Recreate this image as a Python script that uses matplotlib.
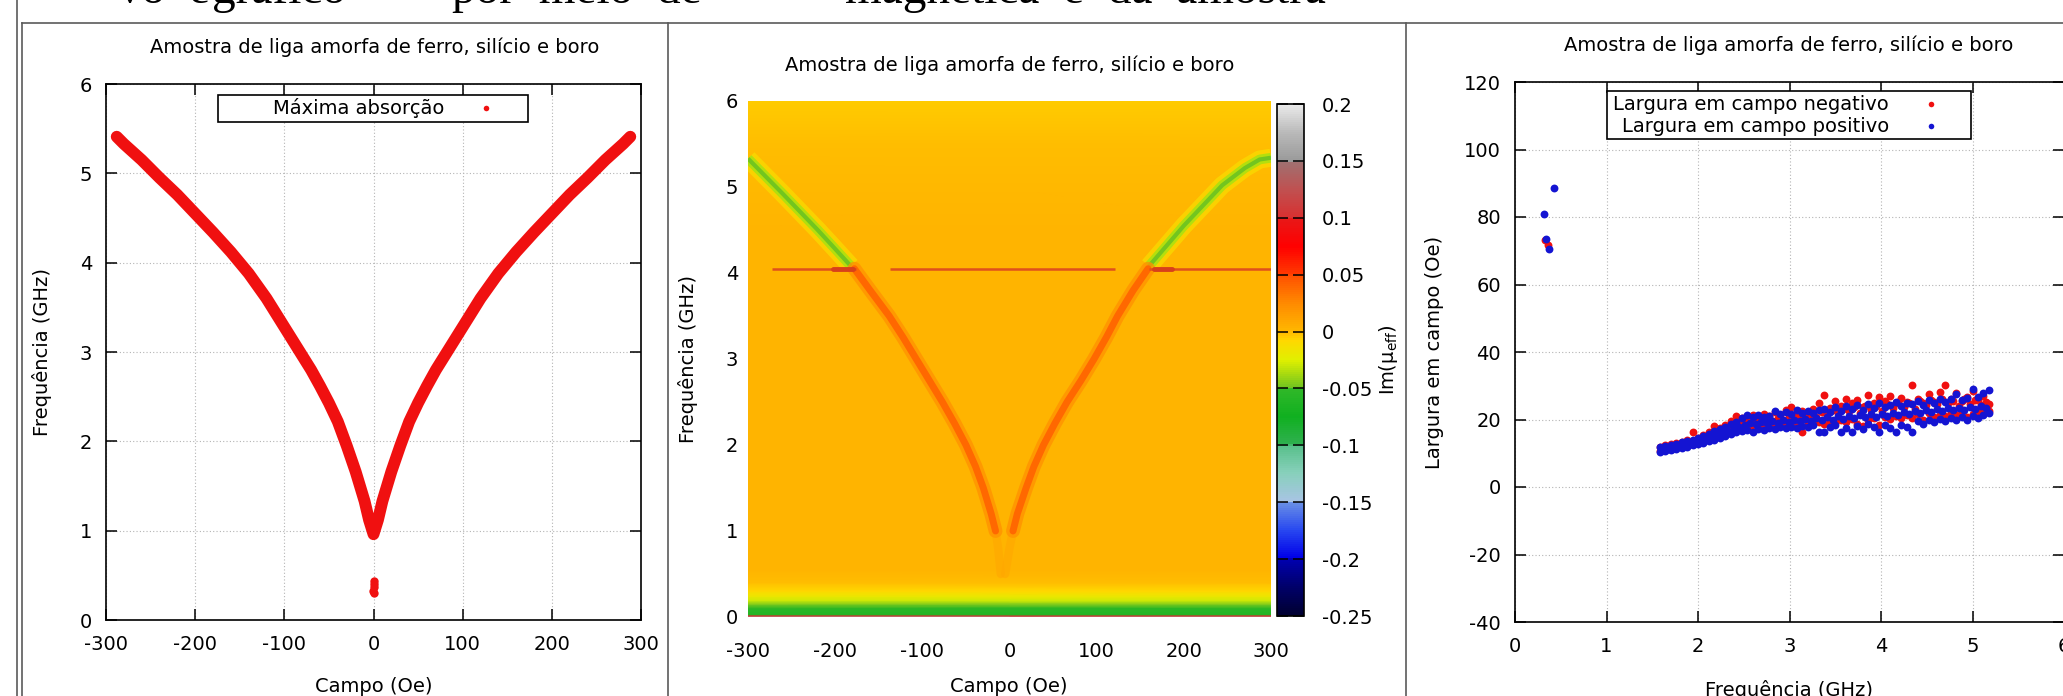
import matplotlib
matplotlib.use('Agg')
import matplotlib.pyplot as plt
import numpy as np
from matplotlib.colors import LinearSegmentedColormap, Normalize
from matplotlib.cm import ScalarMappable
from matplotlib.patches import Rectangle
from matplotlib.lines import Line2D

W, H = 2063, 696
TITULO = 'Amostra de liga amorfa de ferro, silício e boro'
VERMELHO = '#f01010'
AZUL = '#1414d2'

# Painel 1: máxima absorção (campo em Oe, frequência em GHz)
abs_campo = [-288, -280, -260, -240, -220, -200, -180, -160, -140, -120, -100,
             -90, -80, -70, -60, -50, -40, -30, -20, -10, -5, 0,
             5, 10, 20, 30, 40, 50, 60, 70, 80, 90, 100,
             120, 140, 160, 180, 200, 220, 240, 260, 280, 288]
abs_freq = [5.41, 5.33, 5.15, 4.95, 4.76, 4.55, 4.34, 4.12, 3.88, 3.60, 3.28,
            3.12, 2.96, 2.80, 2.62, 2.43, 2.22, 1.95, 1.66, 1.33, 1.12, 0.96,
            1.12, 1.33, 1.66, 1.95, 2.22, 2.43, 2.62, 2.80, 2.96, 3.12, 3.28,
            3.60, 3.88, 4.12, 4.34, 4.55, 4.76, 4.95, 5.15, 5.33, 5.41]
out_campo = [0, 0, 0, -1, 1]
out_freq = [0.44, 0.40, 0.37, 0.33, 0.30]

# Painel 2: mapa de Im(mu_eff)
fundo_freq = [0.0, 0.015, 0.03, 0.06, 0.10, 0.15, 0.19, 0.24, 0.30, 0.40, 0.55, 1.0, 3.5, 4.5, 5.5, 6.0]
fundo_valor = [0.16, 0.10, -0.06, -0.058, -0.055, -0.045, -0.03, -0.018, -0.008, -0.002,
               0.002, 0.003, 0.003, 0.002, -0.002, -0.004]
v_esq_campo = [-178, -160, -138, -122, -107, -92, -77, -63, -50, -39, -30, -21, -16]
v_esq_freq = [4.05, 3.8, 3.5, 3.25, 3.0, 2.75, 2.5, 2.25, 2.0, 1.75, 1.5, 1.2, 1.0]
v_dir_campo = [159, 142, 124, 111, 97, 82, 66, 52, 39, 28, 19, 9, 4]
v_dir_freq = [4.05, 3.8, 3.5, 3.25, 3.0, 2.75, 2.5, 2.25, 2.0, 1.75, 1.5, 1.2, 1.0]
cauda_esq_campo = [-16, -13, -10]
cauda_dir_campo = [4, 0, -5]
cauda_freq = [1.0, 0.8, 0.5]
verde_esq_campo = [-300, -260, -220, -200, -182]
verde_esq_freq = [5.33, 4.92, 4.50, 4.28, 4.08]
verde_dir_campo = [160, 200, 244, 270, 287, 300]
verde_dir_freq = [4.08, 4.55, 5.02, 5.22, 5.32, 5.34]
linha_4ghz = 4.05
linha_trechos = [(-273, -176), (-137, 121), (160, 300)]
linha_manchas = [(-203, -180), (166, 186)]

cbar_ticks = [-0.25, -0.2, -0.15, -0.1, -0.05, 0, 0.05, 0.1, 0.15, 0.2]
cbar_labels = ['-0.25', '-0.2', '-0.15', '-0.1', '-0.05', '0', '0.05', '0.1', '0.15', '0.2']

# Painel 3: largura em campo (Oe) vs frequência (GHz)
freq_a = [1.58, 1.64, 1.70, 1.76, 1.82, 1.88, 1.94, 2.00, 2.06, 2.12, 2.18,
          2.24, 2.30, 2.36, 2.42, 2.48, 2.54, 2.60, 2.66, 2.72, 2.78, 2.84,
          2.90, 2.96, 3.02, 3.08, 3.14, 3.20, 3.26, 3.32, 3.38, 3.44, 3.50,
          3.56, 3.62, 3.68, 3.74, 3.80, 3.86, 3.92, 3.98, 4.04, 4.10, 4.16,
          4.22, 4.28, 4.34, 4.40, 4.46, 4.52, 4.58, 4.64, 4.70, 4.76, 4.82,
          4.88, 4.94, 5.00, 5.06, 5.12, 5.18]
freq_b = [1.61, 1.67, 1.73, 1.79, 1.85, 1.91, 1.97, 2.03, 2.09, 2.15,
          2.21, 2.27, 2.33, 2.39, 2.45, 2.51, 2.57, 2.63, 2.69, 2.75,
          2.81, 2.87, 2.93, 2.99, 3.05, 3.11, 3.17, 3.23, 3.29, 3.35,
          3.41, 3.47, 3.53, 3.59, 3.65, 3.71, 3.77, 3.83, 3.89, 3.95,
          4.01, 4.07, 4.13, 4.19, 4.25, 4.31, 4.37, 4.43, 4.49, 4.55,
          4.61, 4.67, 4.73, 4.79, 4.85, 4.91, 4.97, 5.03, 5.09, 5.15]
neg_a1 = [10.6, 11.0, 11.2, 11.6, 11.9, 12.3, 12.6, 13.0, 13.4, 14.1, 14.6,
          15.2, 15.9, 16.4, 16.9, 17.1, 17.4, 17.2, 17.8, 17.6, 18.1, 17.9,
          18.4, 18.2, 18.6, 18.3, 16.2, 18.7, 18.9, 19.2, 18.8, 19.5, 19.1,
          19.8, 19.4, 20.1, 18.6, 18.2, 19.9, 20.3, 18.4, 20.6, 20.2, 20.9,
          20.5, 21.2, 20.4, 21.5, 19.8, 21.8, 20.6, 21.4, 20.9, 22.0, 21.2,
          22.3, 20.8, 21.6, 22.4, 21.9, 22.6]
neg_a2 = [12.0, 12.3, 12.6, 13.0, 13.4, 13.8, 16.3, 14.6, 15.3, 16.4, 18.2,
          17.6, 18.4, 19.5, 21.0, 20.3, 20.8, 21.3, 20.6, 21.5, 20.9, 22.3,
          21.4, 22.8, 23.6, 21.9, 22.6, 21.8, 23.2, 24.8, 27.4, 23.5, 25.6,
          24.1, 26.2, 24.9, 25.8, 23.8, 27.2, 25.0, 26.6, 25.4, 27.0, 24.8,
          26.3, 25.1, 30.2, 26.0, 24.9, 27.6, 25.3, 28.1, 30.1, 26.2, 27.9,
          25.5, 26.8, 28.3, 25.7, 27.0, 24.6]
neg_b1 = [11.4, 11.8, 12.0, 12.4, 12.7, 13.1, 13.7, 14.2, 14.8, 15.6,
          16.3, 16.9, 17.5, 18.2, 18.9, 19.3, 18.6, 19.8, 19.2, 20.1,
          19.6, 20.4, 19.9, 20.6, 20.2, 21.0, 20.4, 21.3, 20.7, 22.1,
          21.4, 22.7, 21.8, 23.2, 22.4, 23.6, 21.9, 24.1, 22.8, 23.9,
          22.5, 24.6, 23.3, 25.2, 23.7, 24.9, 23.1, 25.6, 24.2, 25.9,
          24.5, 26.2, 24.8, 25.5, 23.9, 26.0, 24.6, 25.7, 24.3, 25.1]
pos_a1 = [10.4, 10.6, 10.9, 11.3, 11.7, 12.0, 12.4, 12.7, 13.1, 13.6, 14.0,
          14.5, 15.1, 15.6, 16.2, 16.6, 16.9, 16.4, 17.2, 16.8, 17.5, 17.1,
          17.8, 17.4, 17.9, 17.6, 18.1, 17.7, 18.3, 16.3, 16.2, 17.9, 18.4,
          16.2, 17.5, 16.2, 18.0, 17.3, 18.6, 17.7, 16.2, 18.3, 17.4, 16.2,
          18.5, 17.9, 16.2, 19.6, 18.8, 19.9, 19.3, 20.2, 19.5, 20.4, 19.8,
          20.6, 20.0, 21.0, 20.4, 21.3, 22.0]
pos_a2 = [11.8, 12.1, 12.5, 12.8, 13.2, 13.5, 13.9, 14.4, 15.0, 15.8, 16.5,
          17.2, 17.8, 18.6, 19.4, 20.5, 21.2, 20.6, 21.4, 20.8, 21.0, 22.5,
          21.6, 22.2, 21.5, 22.7, 21.8, 22.4, 21.9, 22.8, 23.2, 22.1, 23.6,
          22.6, 24.0, 23.1, 24.3, 22.8, 24.6, 23.5, 24.9, 23.8, 24.4, 25.2,
          24.1, 25.0, 24.6, 25.4, 24.2, 25.8, 24.9, 26.1, 25.3, 26.0, 27.6,
          25.7, 26.4, 28.9, 26.8, 27.9, 28.8]
pos_b1 = [11.1, 11.4, 11.7, 12.1, 12.4, 12.8, 13.2, 13.6, 14.1, 14.7,
          15.3, 15.9, 16.6, 17.2, 17.9, 18.5, 19.0, 18.6, 19.3, 18.9,
          19.5, 19.1, 19.8, 19.3, 20.0, 19.5, 20.2, 19.7, 20.4, 19.8,
          20.6, 20.0, 20.9, 20.2, 21.1, 20.4, 21.3, 20.6, 21.5, 20.8,
          21.7, 21.0, 21.9, 21.2, 22.2, 21.5, 22.5, 21.8, 22.8, 22.1,
          23.0, 22.4, 23.3, 22.7, 23.5, 22.9, 23.8, 23.2, 24.0, 23.4]
neg_baixa_f = [0.33, 0.36]
neg_baixa_w = [73.2, 71.8]
pos_baixa_f = [0.32, 0.34, 0.37, 0.43]
pos_baixa_w = [80.9, 73.6, 70.5, 88.6]


def caixa(l, t, r, b):
    return [l / W, 1 - b / H, (r - l) / W, (b - t) / H]


def fx(x):
    return x / W


def fy(y):
    return 1 - y / H


plt.rcParams['font.family'] = 'DejaVu Sans'
plt.rcParams['font.size'] = 14
plt.rcParams['axes.unicode_minus'] = False

fig = plt.figure(figsize=(W / 100, H / 100), dpi=100)
fig.patch.set_facecolor('white')

# texto do documento cortado no topo (só as partes de baixo aparecem)
serif = dict(family='Liberation Serif', fontsize=34, va='bottom', ha='left')
for xx, palavra in [(118, 'vo  e'), (212, 'gráfico'), (452, 'por  meio  de'),
                    (845, 'magnética  e  da  amostra')]:
    fig.text(fx(xx), fy(13), palavra, **serif)

# linhas da tabela
cinza = '#5a5a5a'
fig.add_artist(Line2D([fx(17), fx(17)], [0, 1], color=cinza, lw=1.2))
fig.add_artist(Line2D([fx(22), 1], [fy(23), fy(23)], color=cinza, lw=1.2))
for xx in [22, 668, 1406]:
    fig.add_artist(Line2D([fx(xx), fx(xx)], [0, fy(23)], color=cinza, lw=1.2))


def estilo_eixo(ax):
    ax.tick_params(direction='in', length=8, width=1.1, top=True, right=True,
                   labelsize=14, colors='black')
    ax.tick_params(axis='y', pad=10)
    ax.tick_params(axis='x', pad=11)
    for s in ax.spines.values():
        s.set_linewidth(1.2)
    ax.grid(True, linestyle=(0, (1, 2)), color='#b4b4b4', lw=0.8)
    ax.set_axisbelow(True)


# ---------- Painel 1 ----------
ax1 = fig.add_axes(caixa(106, 84, 641, 620))
ax1.plot(abs_campo, abs_freq, color=VERMELHO, lw=8.5, solid_joinstyle='round',
         solid_capstyle='round')
ax1.plot(out_campo, out_freq, 'o', color=VERMELHO, ms=6, mew=0)
ax1.set_xlim(-300, 300)
ax1.set_ylim(0, 6)
ax1.set_xticks([-300, -200, -100, 0, 100, 200, 300])
ax1.set_yticks([0, 1, 2, 3, 4, 5, 6])
estilo_eixo(ax1)

fig.text(fx(375), fy(47), TITULO, ha='center', va='center', fontsize=14)
fig.text(fx(42), fy(352), 'Frequência (GHz)', rotation=90, ha='center', va='center', fontsize=14)
fig.text(fx(374), fy(687), 'Campo (Oe)', ha='center', va='center', fontsize=14)

fig.add_artist(Rectangle((fx(218), fy(122)), (528 - 218) / W, (122 - 95) / H,
                         transform=fig.transFigure, fc='white', ec='black', lw=1.2))
fig.text(fx(444), fy(108), 'Máxima absorção', ha='right', va='center', fontsize=14)
fig.add_artist(Line2D([fx(486)], [fy(108)], marker='o', ms=4, mew=0, color=VERMELHO,
                      linestyle='none', transform=fig.transFigure))

# ---------- Painel 2 ----------
pos = [(-0.25, '#000030'), (-0.225, '#00006a'), (-0.2005, '#0000b0'), (-0.1995, '#0000e8'),
       (-0.175, '#2848f0'), (-0.1505, '#6a90e6'), (-0.1495, '#a8c4e4'), (-0.125, '#88d0bc'),
       (-0.1005, '#58c08a'), (-0.0995, '#30b050'), (-0.075, '#10b020'), (-0.0505, '#30b828'),
       (-0.0495, '#70c420'), (-0.025, '#e0f000'), (-0.008, '#ffd800'), (0.0, '#ffb800'),
       (0.025, '#ff8a00'), (0.0495, '#ff5000'), (0.0505, '#ff3a00'), (0.075, '#ff0000'),
       (0.0995, '#e81818'), (0.1005, '#d83030'), (0.125, '#c05050'), (0.1495, '#a07070'),
       (0.1505, '#9a9a9a'), (0.175, '#b8b8b8'), (0.2, '#eaeaea')]
cmap = LinearSegmentedColormap.from_list('im_mu', [((v + 0.25) / 0.45, c) for v, c in pos])
norm = Normalize(-0.25, 0.2)


def cor(v):
    return cmap(norm(v))


ax2 = fig.add_axes(caixa(748, 101, 1271, 617))
xx = np.array([[-300.0, 300.0]] * len(fundo_freq))
yy = np.column_stack([fundo_freq, fundo_freq])
cc = np.column_stack([fundo_valor, fundo_valor])
ax2.pcolormesh(xx, yy, cc, cmap=cmap, norm=norm, shading='gouraud')

# ramos verdes acima de 4 GHz
for hc, fc in [(verde_esq_campo, verde_esq_freq), (verde_dir_campo, verde_dir_freq)]:
    ax2.plot(hc, fc, color=cor(-0.012), lw=13, alpha=0.7, solid_capstyle='butt')
    ax2.plot(hc, fc, color=cor(-0.035), lw=7, solid_capstyle='butt')
    ax2.plot(hc, fc, color=cor(-0.048), lw=3, solid_capstyle='butt')

# ramos da ressonância (V)
for hc, fc, cauda in [(v_esq_campo, v_esq_freq, cauda_esq_campo),
                      (v_dir_campo, v_dir_freq, cauda_dir_campo)]:
    ax2.plot(cauda, cauda_freq, color=cor(0.01), lw=6, alpha=0.6, solid_capstyle='round')
    ax2.plot(hc, fc, color=cor(0.02), lw=10, alpha=0.8, solid_capstyle='round',
             solid_joinstyle='round')
    ax2.plot(hc, fc, color=cor(0.04), lw=5, solid_capstyle='round', solid_joinstyle='round')

# linha horizontal em ~4 GHz
for a, b in linha_trechos:
    ax2.plot([a, b], [linha_4ghz, linha_4ghz], color='#e0501c', lw=1.8, solid_capstyle='butt')
for a, b in linha_manchas:
    ax2.plot([a, b], [linha_4ghz, linha_4ghz], color='#d8401a', lw=3.5, solid_capstyle='round')

ax2.set_xlim(-300, 300)
ax2.set_ylim(0, 6)
ax2.set_xticks([-300, -200, -100, 0, 100, 200, 300])
ax2.set_yticks([0, 1, 2, 3, 4, 5, 6])
ax2.tick_params(length=0, labelsize=14)
ax2.tick_params(axis='y', pad=7)
ax2.tick_params(axis='x', pad=18)
for s in ax2.spines.values():
    s.set_visible(False)

fig.text(fx(1010), fy(65), TITULO, ha='center', va='center', fontsize=14)
fig.text(fx(688), fy(359), 'Frequência (GHz)', rotation=90, ha='center', va='center', fontsize=14)
fig.text(fx(1009), fy(687), 'Campo (Oe)', ha='center', va='center', fontsize=14)

cax = fig.add_axes(caixa(1277, 104, 1304, 616))
cb = fig.colorbar(ScalarMappable(norm=norm, cmap=cmap), cax=cax)
cb.set_ticks(cbar_ticks)
cb.set_ticklabels(cbar_labels)
cb.outline.set_linewidth(1.2)
cax.tick_params(direction='in', length=8, width=1.1, left=True, right=True,
                labelsize=14, pad=13)
fig.text(fx(1389), fy(360), 'Im(μ$_{\\rm eff}$)', rotation=90, ha='center', va='center',
         fontsize=14)

# ---------- Painel 3 ----------
ax3 = fig.add_axes(caixa(1515, 82, 2064, 622))
ax3.scatter(freq_a + freq_a + freq_b + neg_baixa_f, neg_a1 + neg_a2 + neg_b1 + neg_baixa_w,
            s=32, color=VERMELHO, linewidths=0, zorder=3)
ax3.scatter(freq_a + freq_a + freq_b + pos_baixa_f, pos_a1 + pos_a2 + pos_b1 + pos_baixa_w,
            s=32, color=AZUL, linewidths=0, zorder=4)
ax3.set_xlim(0, 6)
ax3.set_ylim(-40, 120)
ax3.set_xticks([0, 1, 2, 3, 4, 5, 6])
ax3.set_yticks([-40, -20, 0, 20, 40, 60, 80, 100, 120])
estilo_eixo(ax3)

fig.text(fx(1789), fy(45), TITULO, ha='center', va='center', fontsize=14)
fig.text(fx(1434), fy(352), 'Largura em campo (Oe)', rotation=90, ha='center', va='center',
         fontsize=14)
fig.text(fx(1789), fy(690), 'Frequência (GHz)', ha='center', va='center', fontsize=14)

fig.add_artist(Rectangle((fx(1607), fy(139)), (1971 - 1607) / W, (139 - 91) / H,
                         transform=fig.transFigure, fc='white', ec='black', lw=1.2))
for yy_, txt, c in [(104, 'Largura em campo negativo', VERMELHO),
                    (126, 'Largura em campo positivo', AZUL)]:
    fig.text(fx(1889), fy(yy_), txt, ha='right', va='center', fontsize=14)
    fig.add_artist(Line2D([fx(1931)], [fy(yy_)], marker='o', ms=4, mew=0, color=c,
                          linestyle='none', transform=fig.transFigure))

fig.savefig('out.png', dpi=100)
